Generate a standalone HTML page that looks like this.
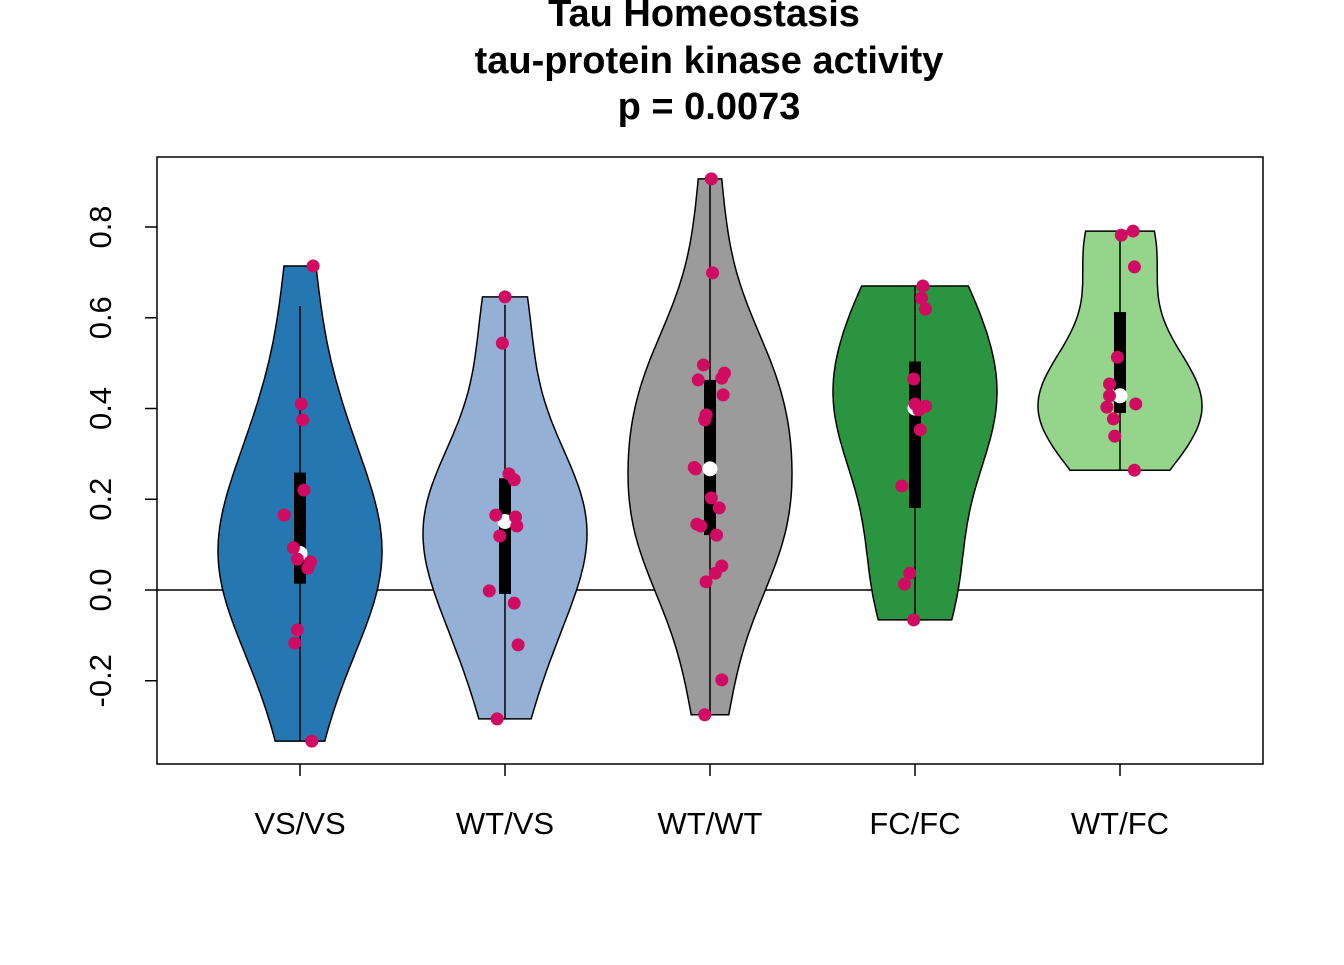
<!DOCTYPE html>
<html><head><meta charset="utf-8"><style>
html,body{margin:0;padding:0;background:#fff;}
svg text{font-family:"Liberation Sans",Arial,sans-serif;}
</style></head><body>
<svg id="chart" width="1344" height="960" viewBox="0 0 1344 960">
<text x="704" y="26" text-anchor="middle" font-size="38" font-weight="bold">Tau Homeostasis</text>
<text x="709" y="73" text-anchor="middle" font-size="38" font-weight="bold">tau-protein kinase activity</text>
<text x="709" y="119" text-anchor="middle" font-size="38" font-weight="bold">p = 0.0073</text>
<g id="marks"></g>
<rect x="157" y="157" width="1106" height="607" fill="none" stroke="#000" stroke-width="1.5"/>
</svg>
<script>
const categories = ["VS/VS","WT/VS","WT/WT","FC/FC","WT/FC"];
const colors = ["#2477b1","#95b0d5","#9b9b9b","#2b9441","#94d48b"];
const yTicks = [-0.2,0.0,0.2,0.4,0.6,0.8];
const yTickLabels = ["-0.2","0.0","0.2","0.4","0.6","0.8"];
const valuesVSVS = [0.714,0.41,0.375,0.22,0.165,0.093,0.068,0.062,0.048,-0.088,-0.117,-0.333];
const valuesWTVS = [0.646,0.544,0.256,0.243,0.165,0.161,0.141,0.119,-0.002,-0.029,-0.121,-0.284];
const valuesWTWT = [0.906,0.699,0.496,0.478,0.467,0.463,0.43,0.386,0.375,0.27,0.267,0.203,0.181,0.145,0.141,0.121,0.053,0.037,0.018,-0.198,-0.275];
const valuesFCFC = [0.67,0.643,0.619,0.465,0.41,0.405,0.397,0.353,0.229,0.037,0.013,-0.066];
const valuesWTFC = [0.791,0.782,0.712,0.513,0.454,0.428,0.403,0.41,0.377,0.339,0.264];
const jitterVSVS = [0.1,0.01,0.02,0.03,-0.12,-0.05,-0.02,0.08,0.06,-0.02,-0.04,0.09];
const jitterWTVS = [0,-0.02,0.03,0.07,-0.07,0.08,0.09,-0.04,-0.12,0.07,0.1,-0.06];
const jitterWTWT = [0.01,0.02,-0.05,0.11,0.09,-0.09,0.1,-0.03,-0.04,-0.12,-0.11,0.01,0.07,-0.1,-0.07,0.05,0.09,0.04,-0.03,0.09,-0.04];
const jitterFCFC = [0.06,0.05,0.08,-0.01,0,0.08,0.03,0.04,-0.1,-0.04,-0.08,-0.01];
const jitterWTFC = [0.1,0.01,0.11,-0.02,-0.08,-0.08,-0.1,0.12,-0.05,-0.04,0.11];
const groups = [valuesVSVS,valuesWTVS,valuesWTWT,valuesFCFC,valuesWTFC];
const jitters = [jitterVSVS,jitterWTVS,jitterWTWT,jitterFCFC,jitterWTFC];

const NS="http://www.w3.org/2000/svg";
const g=document.getElementById('marks');
const yScale=v=>590-v*453.75;
const xScale=i=>300+i*205;
const HALF=82;
function mk(tag,attrs){const e=document.createElementNS(NS,tag);for(const k in attrs)e.setAttribute(k,attrs[k]);return e;}
function quant(a,p){const s=[...a].sort((x,y)=>x-y);const h=(s.length-1)*p;const l=Math.floor(h);return s[l]+(h-l)*((s[Math.min(l+1,s.length-1)])-s[l]);}
function sd(a){const m=a.reduce((x,y)=>x+y,0)/a.length;return Math.sqrt(a.reduce((s,v)=>s+(v-m)*(v-m),0)/(a.length-1));}

const zl=mk('line',{x1:157,x2:1263,y1:yScale(0),y2:yScale(0),stroke:'#000','stroke-width':1.5});


g.appendChild(zl);

groups.forEach((vals,i)=>{
  const cx=xScale(i);
  const mn=Math.min(...vals),mx=Math.max(...vals);
  const q1=quant(vals,0.25),q3=quant(vals,0.75),med=quant(vals,0.5);
  const iqr=q3-q1;
  const bw=sd(vals)*Math.pow(4/(3*vals.length),0.2);
  const N=80,ys=[],ds=[];
  for(let k=0;k<=N;k++){const y=mn+(mx-mn)*k/N;let d=0;vals.forEach(v=>{const z=(y-v)/bw;d+=Math.exp(-0.5*z*z);});ys.push(y);ds.push(d);}
  const dmax=Math.max(...ds);
  let pts=[];
  for(let k=0;k<=N;k++)pts.push([cx+ds[k]/dmax*HALF,yScale(ys[k])]);
  for(let k=N;k>=0;k--)pts.push([cx-ds[k]/dmax*HALF,yScale(ys[k])]);
  const vio=mk('path',{d:'M'+pts.map(p=>p[0].toFixed(1)+','+p[1].toFixed(1)).join('L')+'Z',fill:colors[i],stroke:'#000','stroke-width':1.5});
  
  
  g.appendChild(vio);
  const up=Math.min(mx,q3+1.5*iqr),lo=Math.max(mn,q1-1.5*iqr);
  const wl=mk('line',{x1:cx,x2:cx,y1:yScale(up),y2:yScale(lo),stroke:'#000','stroke-width':1.5});
  
  
  g.appendChild(wl);
  const bx=mk('rect',{x:cx-6,y:yScale(q3),width:12,height:yScale(q1)-yScale(q3),fill:'#000'});
  
  
  g.appendChild(bx);
  const md=mk('circle',{cx:cx,cy:yScale(med),r:7.5,fill:'#fff'});
  
  
  g.appendChild(md);
  vals.forEach((v,j)=>{
    const c=mk('circle',{cx:cx+jitters[i][j]*HALF*1.6,cy:yScale(v),r:6.5,fill:'#d10a62'});
    
    
    g.appendChild(c);
  });
  const t=mk('line',{x1:cx,x2:cx,y1:764,y2:776,stroke:'#000','stroke-width':1.5});
  
  
  g.appendChild(t);
  const lb=mk('text',{x:cx,y:834,'text-anchor':'middle','font-size':31});
  lb.textContent=categories[i];
  
  
  g.appendChild(lb);
});
yTicks.forEach((v,k)=>{
  const y=yScale(v);
  const t=mk('line',{x1:145,x2:157,y1:y,y2:y,stroke:'#000','stroke-width':1.5});
  
  
  g.appendChild(t);
  const lb=mk('text',{x:0,y:0,'text-anchor':'middle','font-size':31,transform:'translate(111,'+y+') rotate(-90)'});
  lb.textContent=yTickLabels[k];
  
  
  g.appendChild(lb);
});
</script>
</body></html>
